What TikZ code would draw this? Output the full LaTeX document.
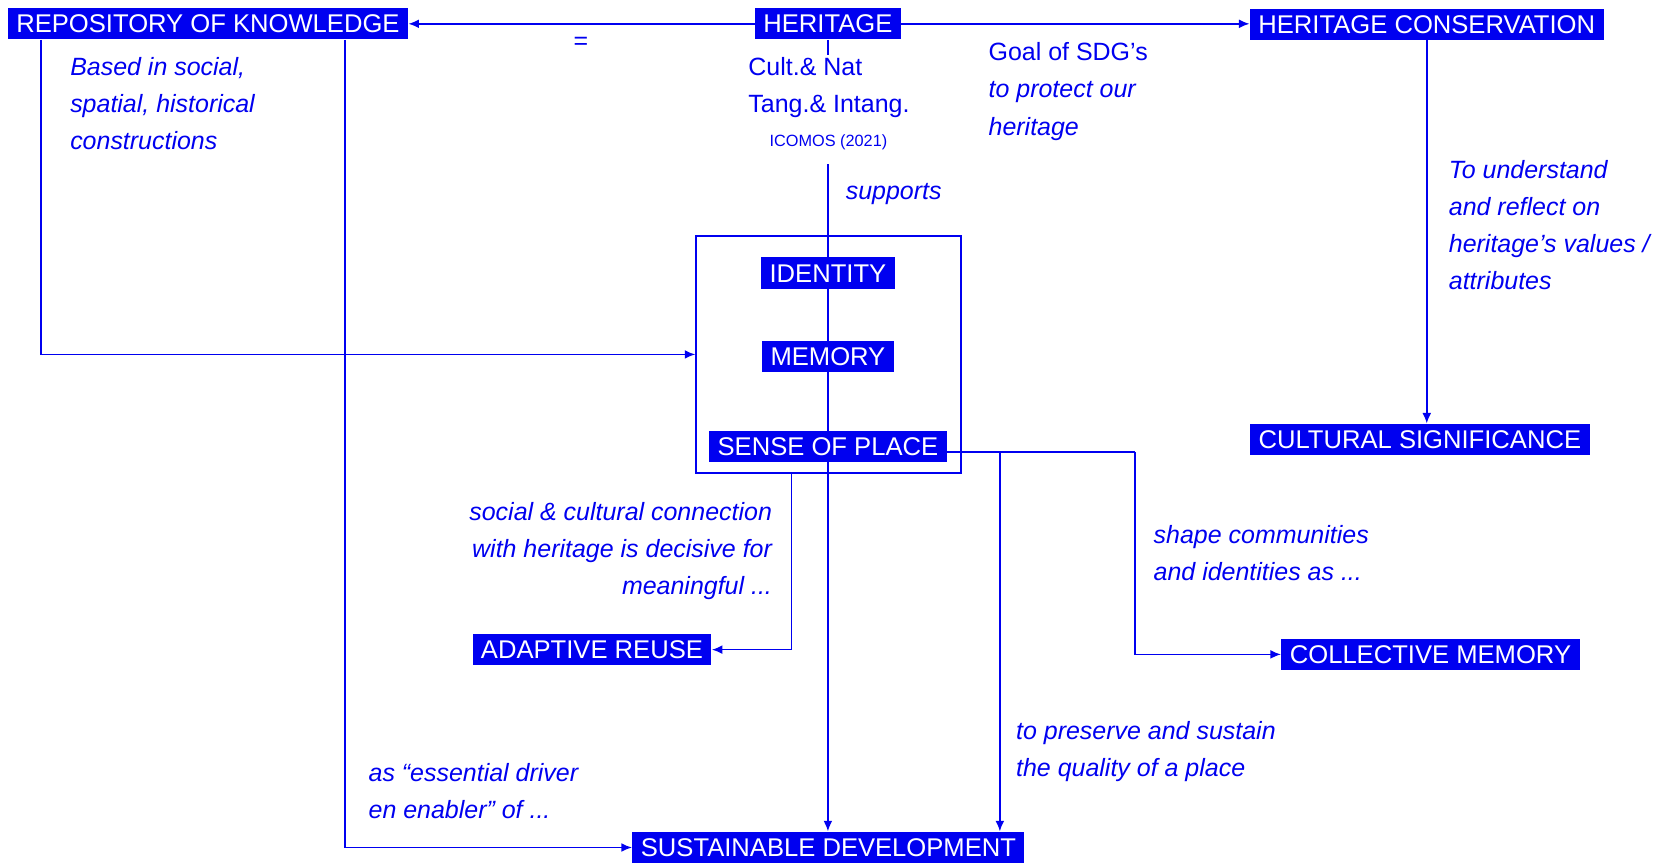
\documentclass[tikz,border=0pt]{standalone}
\usepackage{fontspec}
\setmainfont{Liberation Sans}
\usetikzlibrary{arrows.meta,backgrounds}
\definecolor{bl}{RGB}{0,0,240}
\tikzset{
 box/.style={fill=bl, text=white, font=\fontsize{12.1}{14}\selectfont, inner xsep=4pt, inner ysep=0pt, text height=9.1pt, text depth=0.5pt, minimum height=14.8pt},
 lbl/.style={text=bl, font=\fontsize{11.8}{17.5}\selectfont\itshape, inner sep=0pt},
 lblu/.style={text=bl, font=\fontsize{11.8}{17.5}\selectfont, inner sep=0pt},
 ln/.style={draw=bl, line width=0.8pt},
 arr/.style={ln, -{Latex[length=5pt,width=4.2pt]}},
}
\begin{document}
\begin{tikzpicture}[x=0.5pt,y=-0.5pt]
\useasboundingbox (0,0) rectangle (1568,815);
% boxes
\node[box] (rep) at (196.5,22.5) {REPOSITORY OF KNOWLEDGE};
\node[box] (her) at (782.5,22.5) {HERITAGE};
\node[box] (hc) at (1348.5,23) {HERITAGE CONSERVATION};
\node[box] (cs) at (1342,415.5) {CULTURAL SIGNIFICANCE};
\node[draw=bl, line width=0.8pt, minimum width=125pt, minimum height=112pt, inner sep=0pt] (grp) at (783,335) {};
\node[box] (id) at (782.5,258) {IDENTITY};
\node[box] (mem) at (782.5,337) {MEMORY};
\node[box] (sp) at (782.5,422) {SENSE OF PLACE};
\node[box] (ar) at (559.5,614) {ADAPTIVE REUSE};
\node[box] (cm) at (1352,618.5) {COLLECTIVE MEMORY};
\node[box] (sd) at (783,801) {SUSTAINABLE DEVELOPMENT};
% labels
\node[lblu] (eq) at (549,41) {=};
\node[lbl, anchor=west, align=left] (based) at (66,98) {Based in social,\\spatial, historical\\constructions};
\node[lblu, anchor=west, align=left] (cult) at (707,82.5) {Cult.\& Nat\\Tang.\& Intang.};
\node[text=bl, font=\fontsize{7.7}{9}\selectfont, inner sep=0pt] (icomos) at (783,134) {ICOMOS (2021)};
\node[lbl, anchor=west, align=left] (goal) at (934,86.5) {{\upshape Goal of SDG’s}\\to protect our\\heritage};
\node[lbl, anchor=west] (sup) at (799,183) {supports};
\node[lbl, anchor=west, align=left] (tou) at (1369,213) {To understand\\and reflect on\\heritage’s values /\\attributes};
\node[lbl, anchor=east, align=right] (soc) at (730,520.5) {social \& cultural connection\\with heritage is decisive for\\meaningful ...};
\node[lbl, anchor=west, align=left] (shp) at (1090,523) {shape communities\\and identities as ...};
\node[lbl, anchor=west, align=left] (pres) at (960,710) {to preserve and sustain\\the quality of a place};
\node[lbl, anchor=west, align=left] (ess) at (348,747.5) {as “essential driver\\en enabler” of ...};
% helper coordinates
\coordinate (c1) at (782.5,52);
\coordinate (c2) at (782.5,155);
\coordinate (x39) at (39,0);
\coordinate (x326) at (326,0);
\coordinate (x945) at (945,0);
\coordinate (x1073) at (1073,0);
\coordinate (x748) at (748,0);
\coordinate (spo) at ([yshift=-2.5pt]sp.east);
\coordinate (k0) at (spo -| x945);
\coordinate (k1) at (spo -| x1073);
\begin{scope}[on background layer]
\fill[white] (0,0) rectangle (1568,815);
\draw[arr] (her.west) -- (rep.east);
\draw[arr] (her.east) -- (hc.west |- her.east);
\draw[arr] (hc.south) -- (hc.south |- cs.north);
\draw[ln] (her.south) -- (c1);
\draw[arr] (c2) -- (c2 |- sd.north);
\draw[arr] (rep.south -| x39) |- (grp.west);
\draw[arr] (rep.south -| x326) |- (sd.west);
\draw[ln] (spo) -- (k1);
\draw[arr] (k1) |- (cm.west);
\draw[arr] (k0) -- (k0 |- sd.north);
\draw[arr] (grp.south -| x748) |- (ar.east);
\end{scope}
\end{tikzpicture}
\end{document}
